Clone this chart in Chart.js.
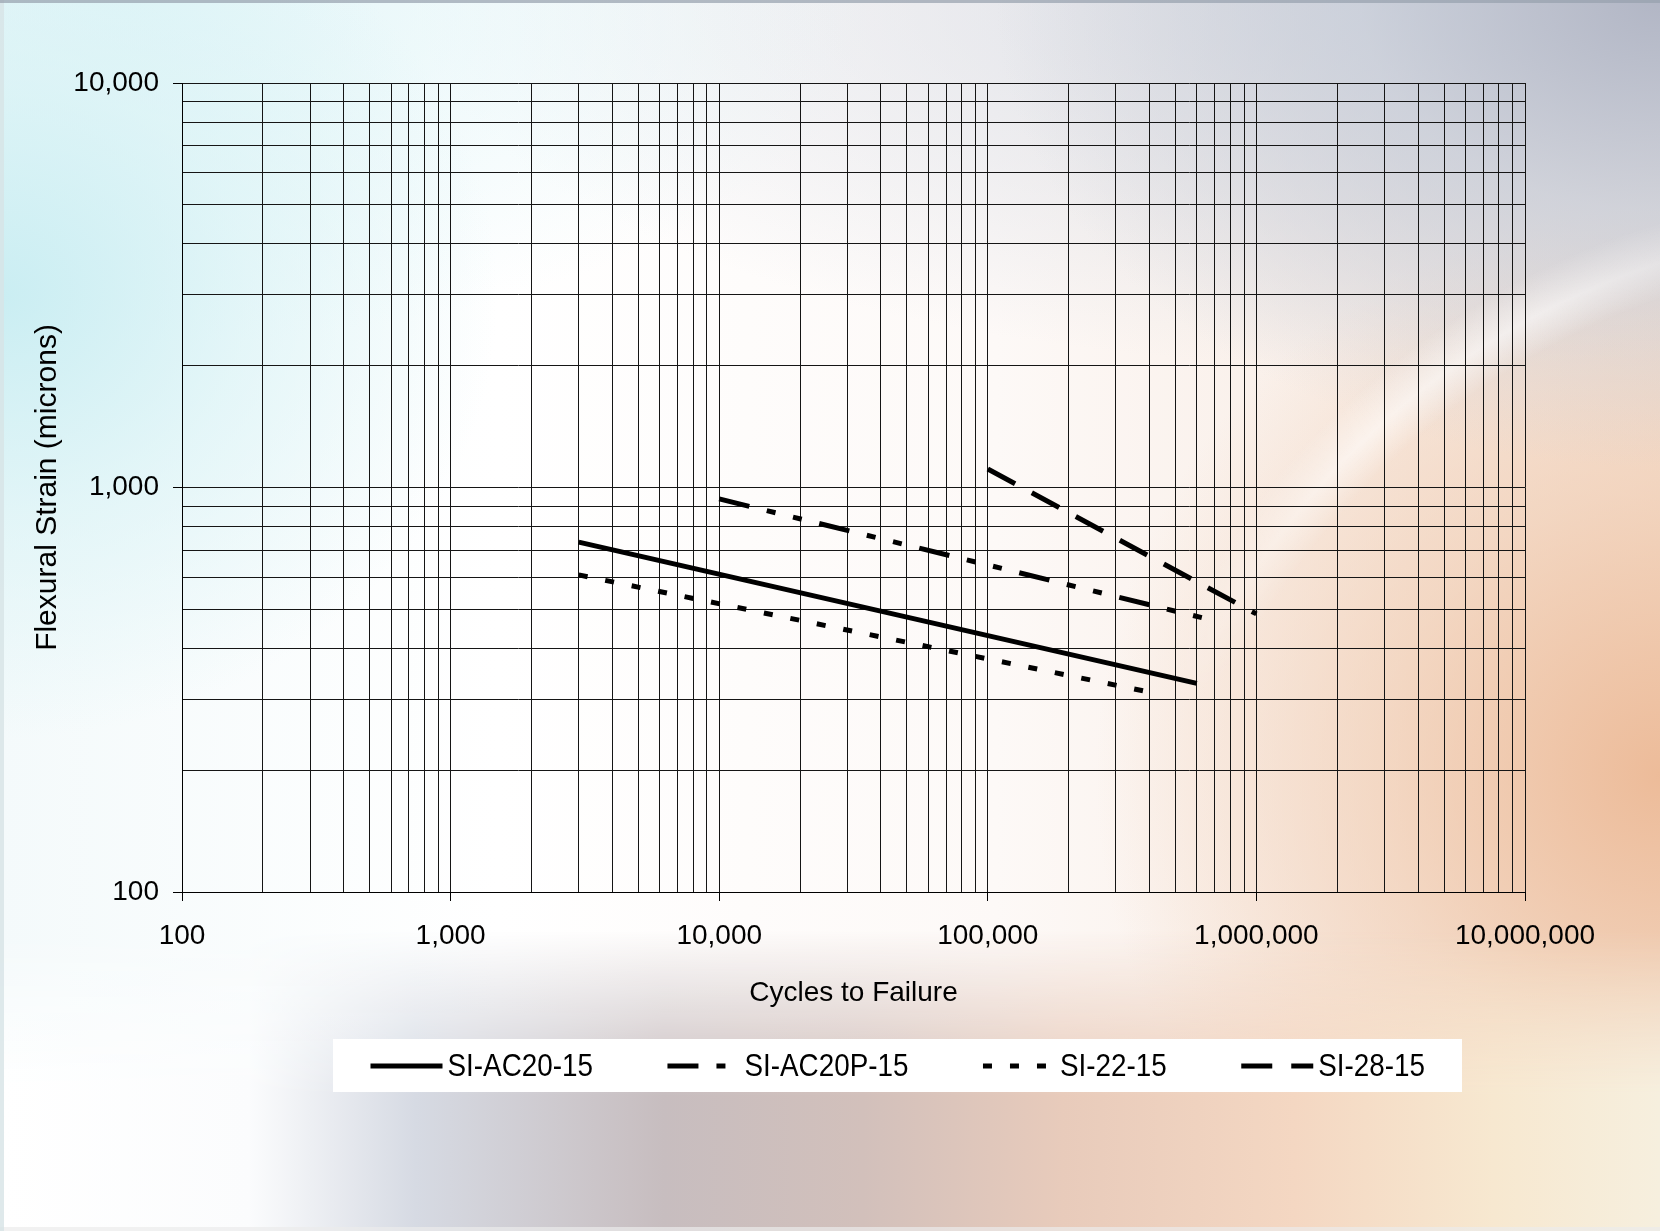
<!DOCTYPE html>
<html>
<head>
<meta charset="utf-8">
<title>Flexural Strain vs Cycles to Failure</title>
<script src="https://cdn.jsdelivr.net/npm/chart.js@4/dist/chart.umd.min.js"></script>
<style>
  html, body { margin: 0; padding: 0; }
  body { width: 1660px; height: 1231px; overflow: hidden; }
  #wrap {
    position: relative;
    width: 1660px;
    height: 1231px;
    overflow: hidden;
    background:
      radial-gradient(30% 36% at 0% 24%, rgba(200,237,242,0.95), rgba(214,242,245,0.6) 50%, rgba(255,255,255,0) 100%),
      radial-gradient(45% 28% at 8% 0%, rgba(222,244,247,0.85), rgba(255,255,255,0) 100%),
      radial-gradient(40% 38% at 100% 0%, rgba(174,179,195,0.92), rgba(198,204,216,0.7) 45%, rgba(220,226,234,0) 100%),
      radial-gradient(60% 30% at 85% 0%, rgba(206,213,225,0.75), rgba(230,235,240,0) 100%),
      radial-gradient(34% 46% at 100% 63%, rgba(236,184,148,0.92), rgba(240,202,174,0.6) 50%, rgba(250,230,215,0) 100%),
      linear-gradient(to right, #f4fafb 0%, #ffffff 30%, #fdf9f7 60%, #f5e4d8 100%);
  }
  .band {
    position: absolute; left: 0; top: 930px; width: 1660px; height: 301px;
    background: linear-gradient(to right, #ffffff 0%, #fbfcfd 15%, #d6dae3 25%, #c7bdbf 40%, #d2c0bb 52%, #e8cbbb 64%, #f4d7c2 78%, #f7e8d0 90%, #f6efde 100%);
    -webkit-mask-image: linear-gradient(to bottom, rgba(0,0,0,0) 0%, rgba(0,0,0,1) 55%);
    mask-image: linear-gradient(to bottom, rgba(0,0,0,0) 0%, rgba(0,0,0,1) 55%);
  }
  .streak {
    position: absolute; left: 0; top: 0; width: 1660px; height: 1231px;
    background: radial-gradient(circle 900px at 1900px 1000px, rgba(255,255,255,0) 740px, rgba(255,255,255,0.55) 775px, rgba(255,255,255,0) 815px);
    -webkit-mask-image: radial-gradient(28% 30% at 90% 34%, rgba(0,0,0,1) 30%, rgba(0,0,0,0) 100%);
    mask-image: radial-gradient(28% 30% at 90% 34%, rgba(0,0,0,1) 30%, rgba(0,0,0,0) 100%);
  }
  .frame {
    position: absolute; left: 0; top: 0; width: 1660px; height: 1231px;
    box-shadow: inset 0 3px 0 rgba(150,160,172,0.7), inset 4px 0 0 rgba(215,228,230,0.8), inset 0 -4px 0 rgba(235,235,235,0.7);
  }
  canvas { position: absolute; left: 0; top: 0; }
</style>
</head>
<body>
<div id="wrap">
  <div class="band"></div>
  <div class="streak"></div>
  <div class="frame"></div>
  <canvas id="chart" width="1660" height="1231"></canvas>
</div>
<script>
// Fatigue lines: strain (microns) against cycles to failure
const seriesNames = ['SI-AC20-15', 'SI-AC20P-15', 'SI-22-15', 'SI-28-15'];

const ac20Cycles  = [3000, 600000];
const ac20Strain  = [733, 328];

const ac20pCycles = [10000, 640000];
const ac20pStrain = [937, 475];

const si22Cycles  = [3000, 400000];
const si22Strain  = [608, 312];

const si28Cycles  = [100000, 1000000];
const si28Strain  = [1111, 487];

// Labelled decades on each log axis
const xDecades = [100, 1000, 10000, 100000, 1000000, 10000000];
const yDecades = [100, 1000, 10000];
const gridSteps = [1, 2, 3, 4, 5, 6, 7, 8, 9];

const FONT = "'Liberation Sans', Arial, Helvetica, sans-serif";
Chart.defaults.font.family = FONT;
Chart.defaults.font.size = 28;
Chart.defaults.color = '#000';

const isDecade = v => Math.abs(Math.log10(v) - Math.round(Math.log10(v))) < 1e-9;
const fmt = v => Number(v).toLocaleString('en-US');

// Every 1..9 step inside each decade, plus the closing decade
function logGrid(decades) {
  const vals = [];
  for (let i = 0; i < decades.length - 1; i++) {
    gridSteps.forEach(m => vals.push(decades[i] * m));
  }
  vals.push(decades[decades.length - 1]);
  return vals;
}

const pairs = (xs, ys) => xs.map((x, i) => ({ x, y: ys[i] }));

const lineBase = {
  borderColor: '#000',
  backgroundColor: '#000',
  borderWidth: 5,
  borderCapStyle: 'butt',
  pointRadius: 0,
  pointHoverRadius: 0,
  showLine: true,
  fill: false,
  tension: 0
};

const datasets = [
  { label: seriesNames[0], data: pairs(ac20Cycles, ac20Strain), borderDash: [] },
  { label: seriesNames[1], data: pairs(ac20pCycles, ac20pStrain), borderDash: [31, 18, 9, 18, 9, 18] },
  { label: seriesNames[2], data: pairs(si22Cycles, si22Strain), borderDash: [9, 18] },
  { label: seriesNames[3], data: pairs(si28Cycles, si28Strain), borderDash: [31, 19] }
].map(d => Object.assign({}, lineBase, d));

const majorTickColor = c => (c.tick && isDecade(c.tick.value)) ? '#000' : 'rgba(0,0,0,0)';

function logAxis(decades, fitFn, title, titleSize, tickPadding, titlePadding) {
  return {
    type: 'logarithmic',
    min: decades[0],
    max: decades[decades.length - 1],
    afterBuildTicks: s => { s.ticks = logGrid(decades).map(v => ({ value: v, major: isDecade(v) })); },
    afterFit: fitFn,
    ticks: {
      autoSkip: false,
      maxRotation: 0,
      minRotation: 0,
      padding: tickPadding,
      color: '#000',
      font: { size: 28 },
      callback: v => isDecade(v) ? fmt(v) : ''
    },
    grid: {
      color: '#151515',
      lineWidth: 1,
      drawTicks: true,
      tickLength: 9,
      tickWidth: 1,
      tickColor: majorTickColor
    },
    border: { display: true, color: '#000', width: 1 },
    title: { display: true, text: title, color: '#000', font: { size: titleSize }, padding: titlePadding }
  };
}

// Key below the axis title: white panel, line sample, condensed label
const seriesKey = {
  id: 'seriesKey',
  afterDraw(chart) {
    const ctx = chart.ctx;
    const panel = { left: 333, top: 1039, right: 1462, bottom: 1092 };
    const cy = 1066;
    const sample = 72, textGap = 77, itemGap = 74.5, squeeze = 0.87;
    ctx.save();
    ctx.fillStyle = '#ffffff';
    ctx.fillRect(panel.left, panel.top, panel.right - panel.left, panel.bottom - panel.top);
    ctx.font = '32px ' + FONT;
    let x = 370.5;
    chart.data.datasets.forEach(ds => {
      ctx.setLineDash(ds.borderDash || []);
      ctx.lineWidth = ds.borderWidth;
      ctx.strokeStyle = ds.borderColor;
      ctx.lineCap = 'butt';
      ctx.beginPath();
      ctx.moveTo(x, cy);
      ctx.lineTo(x + sample, cy);
      ctx.stroke();
      ctx.setLineDash([]);
      ctx.save();
      ctx.translate(x + textGap, cy);
      ctx.scale(squeeze, 1);
      ctx.textBaseline = 'middle';
      ctx.textAlign = 'left';
      ctx.fillStyle = '#000';
      ctx.fillText(ds.label, 0, 1);
      ctx.restore();
      x += textGap + ctx.measureText(ds.label).width * squeeze + itemGap;
    });
    ctx.restore();
  }
};

new Chart(document.getElementById('chart'), {
  type: 'scatter',
  data: { datasets },
  options: {
    responsive: false,
    animation: false,
    devicePixelRatio: 1,
    layout: { padding: { left: 0, right: 135, top: 83, bottom: 219 } },
    plugins: {
      legend: { display: false },
      tooltip: { enabled: false }
    },
    scales: {
      x: logAxis(xDecades, s => { s.height = 120; }, 'Cycles to Failure', 28, 18, { top: 0, bottom: 1.5 }),
      y: logAxis(yDecades, s => { s.width = 182; }, 'Flexural Strain (microns)', 30, 14, { top: 29.5, bottom: 0 })
    }
  },
  plugins: [seriesKey]
});
</script>
</body>
</html>
